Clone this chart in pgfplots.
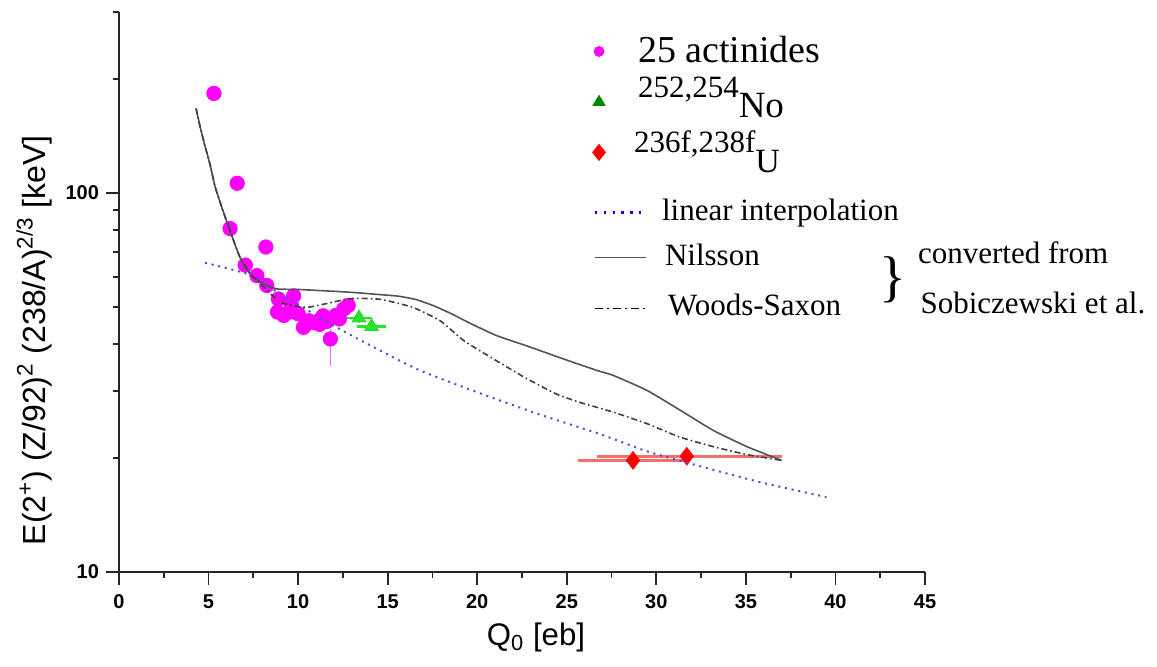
\documentclass[border=0pt]{standalone}
\usepackage{fontspec}
\setmainfont{Liberation Serif}
\setsansfont{Liberation Sans}
\usepackage{pgfplots}
\pgfplotsset{compat=1.18}
\definecolor{mag}{RGB}{255,0,255}
\definecolor{limeg}{RGB}{40,225,40}
\definecolor{dgreen}{RGB}{0,135,0}
\definecolor{nil}{RGB}{80,85,85}
\definecolor{dotblue}{RGB}{70,80,210}
\definecolor{errred}{RGB}{245,110,110}
\begin{document}
\begin{tikzpicture}
\useasboundingbox (-59.5pt,-47pt) rectangle (519pt,286pt);
\begin{axis}[
  scale only axis, width=403pt, height=280pt,
  xmin=0, xmax=45, ymin=10, ymax=300, ymode=log,
  clip mode=individual,
  axis x line*=bottom, axis y line*=left,
  axis line style={line width=1pt, color=black!85},
  tick align=outside,
  major tick length=6.5pt, minor tick length=3pt,
  every tick/.style={line width=0.9pt, black!85},
  xtick={0,5,...,45}, minor xtick={2.5,7.5,...,42.5},
  ytick={10,100}, yticklabels={10,100},
  minor ytick={20,30,40,50,60,70,80,90,200,300},
  /pgf/number format/assume math mode=true,
  tick label style={font=\sffamily\bfseries\fontsize{10}{10}\selectfont},
  xticklabel style={yshift=-1.5pt},
  label style={font=\sffamily\fontsize{15.6}{15.6}\selectfont},
  xlabel={Q\textsubscript{0} [eb]},
  xlabel style={xshift=7pt},
  ylabel={E(2\textsuperscript{+}) (Z/92)\textsuperscript{2} (238/A)\textsuperscript{2/3} [keV]},
  ylabel style={at={(ticklabel cs:0.414)}, font=\sffamily\fontsize{16}{16}\selectfont},
  legend style={at={(rel axis cs:0.5906,0.957)}, anchor=north west, draw=none, fill=none,
    inner sep=0pt, outer sep=0pt, row sep=0pt, column sep=13.5pt,
    font=\fontsize{15.5}{15.5}\selectfont,
    nodes={inner sep=0pt, outer sep=0pt},
    cells={anchor=base west}},
]
% error bars (drawn first)
\addplot[forget plot, only marks, mark=none,
  error bars/.cd, y dir=both, y explicit, error mark=none,
  error bar style={mag!60, line width=0.8pt}]
  coordinates {(11.8,41.2) += (0,2.5) -= (0,6.2)};
\addplot[forget plot, only marks, mark=none,
  error bars/.cd, x dir=both, x explicit, error mark=none,
  error bar style={limeg, line width=1.2pt}]
  coordinates {(13.4,46.8) +- (0.7,0) (14.1,44.4) +- (0.8,0)};
\addplot[forget plot, only marks, mark=none,
  error bars/.cd, x dir=both, x explicit, error mark=none,
  error bar style={errred, line width=1.6pt}]
  coordinates {(28.7,19.7) +- (3.1,0) (31.7,20.2) -= (5.0,0) += (5.3,0)};

% 25 actinides
\addplot[only marks, mark=*, mark size=3.6pt, color=mag, mark options={draw=none, fill=mag},
  legend image code/.code={\path[draw=none,fill=none] (0pt,0pt) rectangle (8pt,0.5pt); \fill[mag,overlay] (2pt,5.5pt) circle (2.5pt);}]
coordinates {
(5.3,183) (6.6,106) (6.2,80.5) (8.2,72) (7.05,64.5) (7.7,60.5) (8.25,57)
(8.9,52.5) (9.75,53.5) (8.85,48.5) (9.5,48.5) (10.0,48) (9.2,47.5)
(10.3,44.2) (10.85,45.5) (11.4,47.4) (12.1,47.5) (12.55,49.4) (12.8,50.5)
(11.8,41.2) (11.2,45) (10.6,46) (11.6,45.8) (9.6,51) (12.3,46.5)
};
\addlegendentry{{\fontsize{19}{19}\selectfont\rule{0pt}{13pt}25 actinides}}

% 252,254 No
\addplot[only marks, mark=triangle*, mark size=4pt, color=limeg, mark options={draw=none, fill=limeg},
  legend image code/.code={\path[draw=none,fill=none] (0pt,0pt) rectangle (8pt,0.5pt); \fill[dgreen,overlay] (-1pt,6pt) -- (5pt,6pt) -- (2pt,11pt) -- cycle;}]
coordinates {(13.4,46.8) (14.1,44.4)};
\addlegendentry{\rule{0pt}{26pt}\raisebox{10pt}{252,254}{\fontsize{18.5}{18.5}\selectfont No}}

% 236f,238f U
\addplot[only marks, mark=diamond*, mark size=4.4pt, color=red, mark options={draw=none, fill=red},
  legend image code/.code={\path[draw=none,fill=none] (0pt,0pt) rectangle (8pt,0.5pt); \fill[red,overlay] (2pt,14pt) -- (5.2pt,10pt) -- (2pt,6pt) -- (-1.2pt,10pt) -- cycle;}]
coordinates {(28.7,19.7) (31.7,20.2)};
\addlegendentry{\hspace*{-2pt}\rule{0pt}{26pt}\raisebox{10pt}{236f,238f}{\fontsize{17}{17}\selectfont U}}

% linear interpolation
\addplot[color=dotblue, line width=1pt, dash pattern=on 1pt off 2.4pt, smooth, tension=0.4,
  legend image code/.code={\path[draw=none,fill=none] (0pt,0pt) rectangle (8pt,0.5pt); \draw[blue, line width=1.2pt, dash pattern=on 1.2pt off 3.2pt, overlay] (0pt,4pt) -- (25pt,4pt);}]
coordinates {
(4.80,65.4) (7.32,60.8) (8.72,55.2) (10.11,50.4) (12.18,44.1) (14.58,38.4)
(16.82,34.0) (20.17,29.6) (23.52,26.0) (26.87,23.1) (29.50,20.8) (32.29,19.1)
(35.81,17.25) (39.50,15.76)
};
\addlegendentry{\hspace*{12pt}\rule{0pt}{22.5pt}linear interpolation}

% Nilsson
\addplot[color=nil, line width=0.8pt, smooth, tension=0.3,
  legend image code/.code={\path[draw=none,fill=none] (0pt,0pt) rectangle (8pt,0.5pt); \draw[nil, line width=0.8pt, overlay] (0pt,4pt) -- (25.5pt,4pt);}]
coordinates {
(4.30,167) (4.55,148) (4.80,133) (5.08,119) (5.36,104) (5.75,91.3) (6.20,79.4) (6.76,67.5)
(7.32,61.2) (8.04,57.6) (8.83,55.8) (10.1,55.6) (12.9,54.7) (14.58,53.9)
(15.6,53.4) (16.6,52.3) (17.6,50.3) (18.6,47.9) (19.6,45.3) (21.1,42.0)
(22.96,39.2) (24.8,36.5) (26.7,34.0) (27.6,33.0) (29.5,30.1) (31.34,26.7)
(33.2,23.6) (35.07,21.4) (37.0,19.7)
};
\addlegendentry{\hspace*{13.5pt}\rule{0pt}{21pt}Nilsson}

% Woods-Saxon
\addplot[color=black!75, line width=0.8pt, dash pattern=on 3pt off 1.5pt on 0.8pt off 1.5pt, smooth, tension=0.3,
  legend image code/.code={\path[draw=none,fill=none] (0pt,0pt) rectangle (8pt,0.5pt); \draw[black, line width=0.8pt, dash pattern=on 4pt off 2pt on 1pt off 2pt, overlay] (0pt,3.5pt) -- (25.5pt,3.5pt);}]
coordinates {
(4.30,167) (4.55,148) (4.80,133) (5.08,119) (5.36,104) (5.75,91.3) (6.20,79.4) (6.76,67.5)
(7.32,61.2) (8.04,56.8) (9.0,51.5) (10.5,49.9) (12.9,52.6) (14.58,52.4)
(16.4,49.9) (17.93,46.0) (19.24,40.8) (20.73,36.9) (22.6,32.7) (24.4,29.5)
(25.75,28.0) (27.6,26.4) (29.5,24.6) (31.3,22.7) (33.2,21.4) (35.07,20.4) (37.0,19.7)
};
\addlegendentry{\hspace*{15pt}\rule{0pt}{23.5pt}Woods-Saxon}

\node[inner sep=0pt, font=\fontsize{28}{28}\selectfont] at (rel axis cs:0.960,0.521) {\}};
\node[inner sep=0pt, anchor=west, font=\fontsize{15.5}{15.5}\selectfont] at (rel axis cs:0.991,0.570) {converted from};
\node[inner sep=0pt, anchor=west, font=\fontsize{15.5}{15.5}\selectfont] at (rel axis cs:0.994,0.480) {Sobiczewski et al.};
\end{axis}
\end{tikzpicture}
\end{document}
